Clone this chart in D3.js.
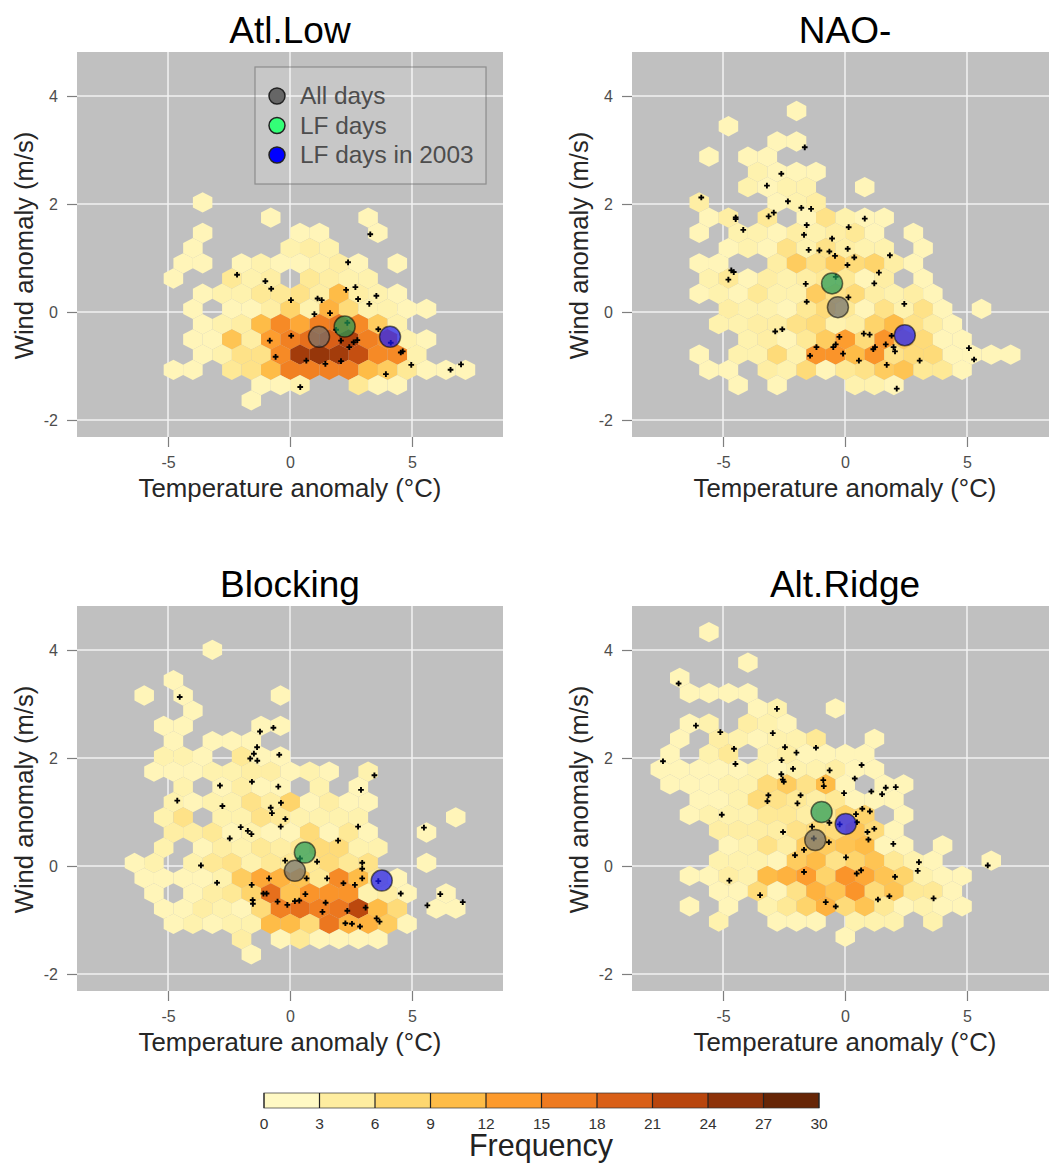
<!DOCTYPE html>
<html>
<head>
<meta charset="utf-8">
<script src="https://cdn.jsdelivr.net/npm/d3@7/dist/d3.min.js"></script>
<style>
html, body { margin: 0; padding: 0; background: #fff; overflow: hidden; }
text { font-family: "Liberation Sans", Arial, sans-serif; }
</style>
</head>
<body>
<script>
// hex rows: [wind bin, first temperature bin, counts from that bin on]
var atlLowRows = [
    [0, 5, [1]],
    [-1, 9, [1, 0, 0, 0, 0, 1]],
    [-2, 5, [1, 0, 0, 0, 0, 1, 1, 0, 0, 1]],
    [-3, 5, [1, 0, 0, 0, 0, 2, 3, 2]],
    [-4, 4, [1, 1, 0, 1, 2, 1, 1, 2, 3, 1, 0, 1]],
    [-5, 4, [1, 0, 0, 4, 2, 3, 0, 4, 3, 2, 2]],
    [-6, 5, [1, 2, 2, 4, 4, 5, 3, 10, 3, 2, 1]],
    [-7, 5, [1, 0, 1, 1, 3, 7, 2, 11, 6, 2, 2, 1, 1]],
    [-8, 5, [1, 2, 3, 10, 15, 12, 16, 17, 15, 8, 2]],
    [-9, 5, [1, 1, 9, 3, 13, 16, 18, 20, 24, 16, 14, 2, 1]],
    [-10, 5, [1, 2, 5, 5, 15, 25, 26, 25, 22, 15, 15, 2]],
    [-11, 4, [1, 1, 0, 4, 5, 10, 16, 16, 16, 16, 10, 8, 4, 1, 1, 1]],
    [-12, 8, [1, 1, 2, 0, 0, 4, 1, 1]],
    [-13, 8, [1]]
];
var naoRows = [
    [6, 7, [1]],
    [5, 4, [1]],
    [4, 6, [1, 1]],
    [3, 3, [1, 0, 1, 1]],
    [2, 5, [2, 1, 1, 1]],
    [1, 5, [2, 1, 2, 2, 0, 0, 1]],
    [0, 2, [3, 0, 0, 0, 1, 2, 3]],
    [-1, 3, [1, 3, 0, 4, 0, 1, 5, 2, 1, 1]],
    [-2, 2, [1, 0, 2, 2, 1, 3, 2, 3, 4, 1, 0, 1]],
    [-3, 4, [1, 2, 1, 5, 2, 5, 3, 2, 2, 0, 1]],
    [-4, 2, [1, 1, 0, 0, 3, 8, 5, 8, 6, 7, 3, 1]],
    [-5, 3, [2, 4, 1, 3, 2, 3, 4, 4, 1, 3, 0, 1]],
    [-6, 2, [1, 2, 1, 4, 2, 2, 8, 5, 6, 3, 2, 3, 1]],
    [-7, 4, [3, 2, 2, 1, 4, 6, 4, 1, 5, 2, 5, 1, 0, 1]],
    [-8, 3, [2, 2, 3, 3, 5, 6, 2, 3, 7, 10, 5, 3, 1]],
    [-9, 5, [2, 3, 1, 4, 8, 13, 6, 14, 8, 6, 1, 1]],
    [-10, 2, [1, 0, 2, 2, 6, 2, 14, 14, 10, 14, 5, 6, 6, 1, 1, 1, 1]],
    [-11, 3, [1, 1, 0, 3, 2, 6, 1, 4, 5, 8, 9, 4, 4, 1]],
    [-12, 4, [1, 0, 1, 0, 0, 0, 2, 2, 1]]
];
var blockingRows = [
    [7, 6, [1]],
    [5, 4, [1]],
    [4, 2, [1, 0, 1, 0, 0, 0, 0, 1]],
    [3, 5, [1]],
    [2, 3, [1, 1, 0, 0, 0, 1, 1]],
    [1, 4, [1, 0, 1, 1, 1]],
    [0, 3, [2, 2, 1, 0, 4, 1, 1]],
    [-1, 3, [1, 1, 1, 2, 2, 3, 3, 1, 2, 1, 0, 2]],
    [-2, 4, [2, 0, 1, 3, 1, 1, 0, 2, 0, 1]],
    [-3, 4, [2, 1, 2, 2, 5, 3, 7, 1, 3, 1, 1]],
    [-4, 3, [2, 5, 0, 2, 2, 5, 4, 2, 2, 2, 2, 0, 0, 0, 0, 1]],
    [-5, 4, [3, 3, 4, 1, 2, 1, 1, 6, 1, 4, 1, 0, 0, 1]],
    [-6, 3, [2, 0, 1, 3, 2, 4, 3, 4, 6, 6, 2, 2]],
    [-7, 2, [1, 2, 0, 2, 4, 5, 2, 4, 4, 4, 6, 4, 5, 0, 0, 1]],
    [-8, 2, [1, 1, 1, 1, 2, 8, 12, 11, 9, 4, 15, 10, 4, 1]],
    [-9, 3, [1, 0, 1, 3, 4, 7, 18, 9, 14, 14, 14, 2, 3, 1, 0, 1]],
    [-10, 3, [1, 1, 3, 2, 1, 6, 16, 18, 16, 17, 23, 10, 6, 0, 1, 1]],
    [-11, 4, [1, 2, 1, 2, 2, 10, 10, 6, 17, 11, 11, 8, 1]],
    [-12, 7, [3, 0, 1, 4, 1, 1, 1, 1]],
    [-13, 8, [1]]
];
var altRidgeRows = [
    [9, 3, [1]],
    [7, 5, [1]],
    [6, 1, [1]],
    [5, 2, [1, 1, 1, 1]],
    [4, 5, [1, 2, 0, 0, 1]],
    [3, 2, [1, 2, 0, 3, 2, 1]],
    [2, 1, [1, 0, 3, 2, 1, 2, 2, 4, 0, 0, 1]],
    [1, 1, [1, 0, 2, 4, 0, 2, 3, 1, 1, 1, 1]],
    [0, 0, [1, 1, 1, 1, 1, 2, 1, 2, 2, 3, 1, 1]],
    [-1, 1, [1, 1, 1, 2, 2, 6, 8, 5, 10, 1, 0, 1, 1]],
    [-2, 2, [1, 1, 2, 6, 5, 4, 3, 4, 1, 1, 1]],
    [-3, 2, [1, 2, 2, 2, 4, 4, 3, 4, 7, 7, 0, 1]],
    [-4, 3, [3, 3, 3, 3, 5, 6, 6, 9, 6, 1]],
    [-5, 4, [1, 2, 5, 3, 8, 8, 9, 10, 1, 1, 0, 1]],
    [-6, 3, [2, 2, 2, 1, 8, 10, 5, 7, 9, 4, 2, 1, 0, 0, 1]],
    [-7, 2, [1, 1, 3, 2, 10, 11, 13, 7, 14, 12, 9, 7, 2, 1, 1]],
    [-8, 3, [1, 1, 6, 1, 5, 11, 9, 14, 6, 9, 4, 4, 1]],
    [-9, 2, [1, 0, 1, 0, 2, 4, 7, 11, 6, 9, 4, 1, 2, 1, 1]],
    [-10, 3, [2, 0, 0, 1, 1, 1, 0, 2, 2, 2, 0, 2]],
    [-11, 10, [1]]
];

// LF days, [temperature, wind]
var atlLowDays = [[3.29, 1.44], [2.38, 0.92], [-2.17, 0.69], [-1.01, 0.57], [-0.77, 0.43], [0.04, 0.22], [1.13, 0.25], [1.30, 0.22],
    [2.30, 0.41], [2.68, 0.46], [2.79, 0.24], [3.54, 0.30], [3.25, 0.15], [1.00, -0.04], [1.64, -0.02], [3.62, -0.32], [0.05, -0.44],
    [-0.83, -0.53], [2.09, -0.53], [2.61, -0.56], [2.76, -0.52], [2.43, -0.65], [4.54, -0.75], [4.62, -0.73], [-0.59, -0.83], [0.67, -0.90],
    [1.45, -0.96], [2.09, -0.91], [3.93, -1.15], [4.97, -0.98], [6.58, -1.07], [7.01, -0.97], [0.42, -1.39], [2.35, -0.20], [1.89, -0.33],
    [4.13, -0.57]];
var naoDays = [[-1.65, 3.05], [-2.61, 2.56], [-3.20, 2.34], [-5.89, 2.12], [-2.34, 2.05], [-1.79, 1.93], [-1.39, 1.91], [-4.48, 1.75],
    [-4.48, 1.72], [-3.13, 1.77], [-2.92, 1.84], [0.81, 1.73], [-1.57, 1.61], [0.15, 1.57], [-4.17, 1.52], [-1.68, 1.43], [-0.53, 1.36],
    [-1.49, 1.15], [-1.05, 1.14], [-0.64, 1.12], [-0.41, 1.04], [0.11, 1.17], [0.38, 1.01], [1.84, 1.05], [0.10, 0.87], [-4.66, 0.77],
    [-4.56, 0.74], [-4.78, 0.60], [1.39, 0.73], [1.20, 0.53], [-1.61, 0.52], [-0.38, 0.65], [0.14, 0.27], [-1.57, 0.19], [2.43, 0.15],
    [-2.86, -0.36], [-2.57, -0.32], [0.77, -0.40], [1.01, -0.42], [1.91, -0.44], [-0.23, -0.46], [-0.38, -0.60], [-0.48, -0.65],
    [-1.17, -0.65], [-1.43, -0.81], [-0.08, -0.77], [1.23, -0.65], [1.16, -0.69], [1.67, -0.60], [1.99, -0.65], [2.05, -0.73], [0.57, -0.90],
    [1.71, -0.98], [3.06, -0.90], [5.08, -0.67], [5.29, -0.88], [2.12, -1.42]];
var blockingDays = [[-4.52, 3.13], [-1.23, 2.49], [-0.68, 2.56], [-1.35, 2.20], [-1.48, 2.08], [-1.63, 1.99], [-1.34, 1.95], [-0.44, 2.06],
    [3.46, 1.68], [-1.56, 1.56], [-2.87, 1.49], [-0.48, 1.47], [2.91, 1.41], [-4.62, 1.21], [-2.77, 1.11], [-0.37, 1.17], [-0.79, 1.08],
    [-0.74, 0.98], [-0.19, 0.87], [-2.02, 0.72], [-1.73, 0.65], [-1.58, 0.59], [-0.38, 0.73], [-2.47, 0.51], [2.79, 0.73], [1.97, 0.47],
    [5.49, 0.71], [-3.65, 0.01], [-0.20, 0.10], [0.41, 0.14], [1.11, 0.08], [2.96, 0.06], [2.96, -0.05], [2.96, -0.23], [-0.86, -0.23],
    [0.68, -0.23], [1.52, -0.23], [2.19, -0.32], [2.66, -0.35], [-2.99, -0.31], [-1.57, -0.35], [-1.09, -0.51], [-0.96, -0.51], [0.63, -0.52],
    [-1.53, -0.63], [-1.52, -0.70], [-0.51, -0.66], [-0.11, -0.72], [0.20, -0.65], [0.38, -0.64], [1.46, -0.68], [1.33, -0.85], [2.35, -0.83],
    [3.10, -0.77], [2.27, -1.06], [2.54, -1.07], [2.87, -1.12], [3.55, -0.97], [3.67, -1.03], [4.54, -0.51], [6.16, -0.52], [5.63, -0.73],
    [7.08, -0.67], [3.62, -0.28]];
var altRidgeDays = [[-6.82, 3.38], [-2.79, 2.91], [-6.11, 2.60], [-5.11, 2.48], [-2.96, 2.46], [-4.55, 2.17], [-2.46, 2.20], [-1.99, 2.10],
    [-1.19, 2.19], [-7.46, 1.94], [-4.49, 1.89], [-2.60, 1.96], [-2.13, 1.80], [-0.63, 1.77], [0.68, 1.87], [-2.61, 1.70], [-2.55, 1.60],
    [-2.51, 1.56], [-0.89, 1.59], [-0.87, 1.48], [0.40, 1.62], [-0.04, 1.35], [1.08, 1.38], [1.67, 1.45], [2.08, 1.46], [1.52, 1.33],
    [-3.14, 1.31], [-3.18, 1.20], [-1.82, 1.31], [-1.95, 1.16], [-5.05, 0.95], [0.45, 0.96], [0.71, 1.06], [1.02, 1.01], [-0.64, 0.80],
    [-0.22, 0.77], [0.49, 0.81], [-1.35, 0.73], [1.20, 0.69], [0.92, 0.63], [-2.54, 0.63], [0.96, 0.49], [-0.66, 0.44], [-1.28, 0.51],
    [1.98, 0.41], [-1.68, 0.30], [-2.05, 0.20], [0.04, 0.16], [3.03, 0.07], [2.98, -0.09], [5.85, 0.01], [-1.68, -0.11], [0.48, -0.14],
    [0.66, -0.08], [2.05, -0.20], [-4.74, -0.27], [-3.48, -0.54], [-0.79, -0.67], [-0.38, -0.75], [1.82, -0.56], [1.35, -0.62], [3.63, -0.60]];

// means: all days, LF days, LF days in 2003
var atlLowMeans = [[1.19, -0.46], [2.24, -0.27], [4.10, -0.46]];
var naoMeans = [[-0.29, 0.09], [-0.53, 0.53], [2.45, -0.43]];
var blockingMeans = [[0.20, -0.09], [0.61, 0.25], [3.76, -0.27]];
var altRidgeMeans = [[-1.22, 0.48], [-0.96, 1.00], [0.03, 0.78]];

var regimes = ["Atl.Low", "NAO-", "Blocking", "Alt.Ridge"];
var windOrigins = [2.03, 2.03, 2.03, 1.792];
var tempTicks = [-5, 0, 5];
var windTicks = [-2, 0, 2, 4];
var legendLabels = ["All days", "LF days", "LF days in 2003"];
var frequencyTicks = [0, 3, 6, 9, 12, 15, 18, 21, 24, 27, 30];
var frequencyColors = ["#FFF9C4", "#FEEDA0", "#FED76F", "#FEBC47", "#FD9A2C", "#EE7A20", "#D95F17", "#B8450D", "#8D3209", "#662506"];

var tempOrigin = -7.97, tempStep = 0.798, windStep = 0.282;
var panelW = 426, panelH = 385;
var panelPos = [[77, 52], [632, 52], [77, 606], [632, 606]];
var meanFills = ["#6E6E6E", "#1E9A57", "#1414FF"];
var meanLegendFills = ["#666666", "#33FF77", "#0000FF"];

var x = d3.scaleLinear().domain([-8.73, 8.73]).range([0, panelW]);
var y = d3.scaleLinear().domain([-2.315, 4.815]).range([panelH, 0]);
var fillScale = d3.scaleLinear()
    .domain(frequencyColors.map(function (c, i) { return i * 30 / 9; }))
    .range(frequencyColors)
    .clamp(true);

var svg = d3.select("body").append("svg").attr("width", 1049).attr("height", 1163);

function hexBins(rows, windOrigin) {
    var bins = [];
    rows.forEach(function (row) {
        row[2].forEach(function (count, i) {
            if (!count) return;
            var odd = Math.abs(row[0]) % 2 === 1;
            bins.push({
                temp: tempOrigin + tempStep * (row[1] + i) + (odd ? 0 : tempStep / 2),
                wind: windOrigin + windStep * row[0],
                count: count
            });
        });
    });
    return bins;
}

function hexPath(d) {
    var dx = tempStep / 2, dy = windStep * 2 / 3;
    var corners = [[0, dy], [dx, dy / 2], [dx, -dy / 2], [0, -dy], [-dx, -dy / 2], [-dx, dy / 2]];
    return d3.line()(corners.map(function (c) {
        return [x(d.temp + c[0]), y(d.wind + c[1])];
    })) + "Z";
}

function drawPanel(i, rows, days, means) {
    var g = svg.append("g").attr("transform", "translate(" + panelPos[i] + ")");
    g.append("rect").attr("width", panelW).attr("height", panelH).attr("fill", "#C0C0C0");

    g.selectAll(".vgrid").data(tempTicks).enter().append("line")
        .attr("x1", x).attr("x2", x).attr("y1", 0).attr("y2", panelH)
        .attr("stroke", "#f2f2f2").attr("stroke-width", 1.5);
    g.selectAll(".hgrid").data(windTicks).enter().append("line")
        .attr("x1", 0).attr("x2", panelW).attr("y1", y).attr("y2", y)
        .attr("stroke", "#f2f2f2").attr("stroke-width", 1.5);

    g.selectAll(".hex").data(hexBins(rows, windOrigins[i])).enter().append("path")
        .attr("d", hexPath)
        .attr("fill", function (d) { return fillScale(d.count); });

    g.selectAll(".day").data(days).enter().append("path")
        .attr("d", d3.symbol(d3.symbolCross).size(18))
        .attr("transform", function (d) { return "translate(" + x(d[0]) + "," + y(d[1]) + ")"; })
        .attr("fill", "#000");

    g.selectAll(".mean").data(means).enter().append("circle")
        .attr("cx", function (d) { return x(d[0]); })
        .attr("cy", function (d) { return y(d[1]); })
        .attr("r", 10.5)
        .attr("fill", function (d, j) { return meanFills[j]; })
        .attr("fill-opacity", 0.7)
        .attr("stroke", "#000").attr("stroke-opacity", 0.55).attr("stroke-width", 1.5);

    var xAxis = g.append("g").attr("transform", "translate(0," + panelH + ")")
        .call(d3.axisBottom(x).tickValues(tempTicks).tickSize(10).tickPadding(10).tickFormat(String));
    var yAxis = g.append("g")
        .call(d3.axisLeft(y).tickValues(windTicks).tickSize(10).tickPadding(9).tickFormat(String));
    [xAxis, yAxis].forEach(function (a) {
        a.select(".domain").remove();
        a.selectAll("line").attr("stroke", "#7f7f7f").attr("stroke-width", 1.2);
        a.selectAll("text").attr("fill", "#4d4d4d").style("font-size", "16px").style("font-family", "Liberation Sans");
    });

    g.append("text").attr("x", x(0)).attr("y", -9).attr("text-anchor", "middle")
        .attr("font-size", 37).text(regimes[i]);
    g.append("text").attr("x", x(0)).attr("y", panelH + 60).attr("text-anchor", "middle")
        .attr("font-size", 25.8).attr("fill", "#262626").text("Temperature anomaly (\u00B0C)");
    g.append("text").attr("transform", "translate(-44," + (panelH / 2 + 1) + ") rotate(-90)")
        .attr("text-anchor", "middle").attr("font-size", 25.6).attr("fill", "#262626")
        .text("Wind anomaly (m/s)");
}

drawPanel(0, atlLowRows, atlLowDays, atlLowMeans);
drawPanel(1, naoRows, naoDays, naoMeans);
drawPanel(2, blockingRows, blockingDays, blockingMeans);
drawPanel(3, altRidgeRows, altRidgeDays, altRidgeMeans);

// legend in the first panel
var legend = svg.append("g").attr("transform", "translate(255,67)");
legend.append("rect").attr("width", 231).attr("height", 117)
    .attr("fill", "#fff").attr("fill-opacity", 0.12)
    .attr("stroke", "#555").attr("stroke-opacity", 0.5).attr("stroke-width", 1.2);
var legendRow = d3.scalePoint().domain(legendLabels).range([29, 88]);
legend.selectAll("circle").data(legendLabels).enter().append("circle")
    .attr("cx", 22).attr("cy", legendRow).attr("r", 8)
    .attr("fill", function (d, i) { return meanLegendFills[i]; })
    .attr("stroke", "#222").attr("stroke-width", 1.5);
legend.selectAll("text").data(legendLabels).enter().append("text")
    .attr("x", 45).attr("y", function (d) { return legendRow(d) + 8; })
    .attr("font-size", 24.4).attr("fill", "#4d4d4d").text(function (d) { return d; });

// frequency colour bar
var barX = d3.scaleLinear().domain([0, 30]).range([264, 819]);
var bar = svg.append("g").attr("transform", "translate(0,1093)");
bar.selectAll("rect").data(frequencyColors).enter().append("rect")
    .attr("x", function (d, i) { return barX(frequencyTicks[i]); })
    .attr("width", function (d, i) { return barX(frequencyTicks[i + 1]) - barX(frequencyTicks[i]); })
    .attr("height", 15)
    .attr("fill", function (d) { return d; });
bar.append("rect").attr("x", 264).attr("width", 555).attr("height", 15)
    .attr("fill", "none").attr("stroke", "#333").attr("stroke-opacity", 0.7);
bar.selectAll("line").data(frequencyTicks).enter().append("line")
    .attr("x1", barX).attr("x2", barX).attr("y1", 0).attr("y2", 15)
    .attr("stroke", "#222").attr("stroke-width", 1.2);
bar.selectAll("text").data(frequencyTicks).enter().append("text")
    .attr("x", barX).attr("y", 36).attr("text-anchor", "middle")
    .attr("font-size", 15.5).attr("fill", "#333").text(String);
svg.append("text").attr("x", 541).attr("y", 1156).attr("text-anchor", "middle")
    .attr("font-size", 30.5).attr("fill", "#222").text("Frequency");
</script>
</body>
</html>
